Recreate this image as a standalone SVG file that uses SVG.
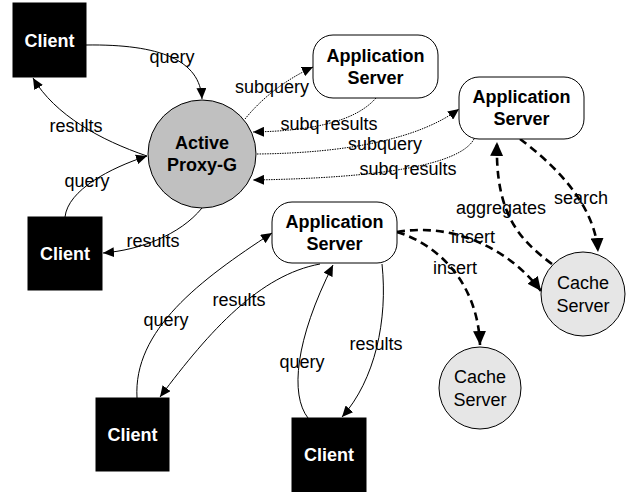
<svg xmlns="http://www.w3.org/2000/svg" width="626" height="492" viewBox="0 0 626 492">
<defs>
<style>
text{font-family:"Liberation Sans",Arial,sans-serif;font-size:18px;text-anchor:middle;fill:#000}
.b{font-weight:bold}
.w{fill:#fff;font-weight:bold}
.client{fill:#000;stroke:#000}
.app{fill:#fff;stroke:#000;stroke-width:1}
.proxy{fill:#c0c0c0;stroke:#000;stroke-width:1}
.cache{fill:#e6e6e6;stroke:#000;stroke-width:1}
.c{fill:none;stroke:#000;stroke-width:1}
.dot{fill:none;stroke:#000;stroke-width:1;stroke-dasharray:1.5,1}
.dash{fill:none;stroke:#000;stroke-width:2.6;stroke-dasharray:8,5}
</style>
<marker id="a" markerUnits="userSpaceOnUse" markerWidth="12" markerHeight="10" refX="11" refY="5" orient="auto">
<path d="M0,0 L11,5 L0,10 z" fill="#000"/>
</marker>
<marker id="A" markerUnits="userSpaceOnUse" markerWidth="15" markerHeight="13" refX="14" refY="6.5" orient="auto">
<path d="M0,0 L14,6.5 L0,13 z" fill="#000"/>
</marker>
</defs>
<g id="connectors">
<path class="c" d="M86,45 C160,44 200,60 202,99" marker-end="url(#a)"/>
<path class="c" d="M147,156 C100,140 55,115 33,78" marker-end="url(#a)"/>
<path class="c" d="M65,217 C68,190 110,168 147,156" marker-end="url(#a)"/>
<path class="c" d="M202,208 C180,235 140,250 103,253" marker-end="url(#a)"/>
<path class="dot" d="M245,119 C262,98 285,80 313,67" marker-end="url(#a)"/>
<path class="dot" d="M376,98 C355,122 310,131 253,132" marker-end="url(#a)"/>
<path class="dot" d="M257,154 C350,153 420,138 459,109" marker-end="url(#a)"/>
<path class="dot" d="M474,139 C460,165 380,178 253,180" marker-end="url(#a)"/>
<path class="dash" d="M520,139 C555,165 595,205 598,252" marker-end="url(#A)"/>
<path class="dash" d="M552,264 C520,240 495,215 497,142" marker-end="url(#A)"/>
<path class="dash" d="M397,232 C455,222 510,250 541,291" marker-end="url(#A)"/>
<path class="dash" d="M397,232 C440,245 478,285 480,345" marker-end="url(#A)"/>
<path class="c" d="M137,398 C133,330 200,280 272,233" marker-end="url(#a)"/>
<path class="c" d="M320,264 C260,275 210,330 160,397" marker-end="url(#a)"/>
<path class="c" d="M308,418 C290,395 295,340 333,265" marker-end="url(#a)"/>
<path class="c" d="M382,264 C388,320 375,380 342,417" marker-end="url(#a)"/>
<text x="172" y="63">query</text>
<text x="76" y="132">results</text>
<text x="87" y="187">query</text>
<text x="153" y="247">results</text>
<text x="272" y="93">subquery</text>
<text x="329" y="130">subq results</text>
<text x="385" y="150">subquery</text>
<text x="408" y="175">subq results</text>
<text x="581" y="204">search</text>
<text x="501" y="214">aggregates</text>
<text x="473" y="243">insert</text>
<text x="455" y="274">insert</text>
<text x="166" y="326">query</text>
<text x="239" y="306">results</text>
<text x="302" y="368">query</text>
<text x="376" y="350">results</text>
</g>
<g id="client1"><rect class="client" x="13" y="3" width="73" height="74"/><text class="w" x="49.5" y="47">Client</text></g>
<g id="client2"><rect class="client" x="28" y="217" width="74" height="73"/><text class="w" x="65" y="260">Client</text></g>
<g id="client3"><rect class="client" x="96" y="398" width="73" height="73"/><text class="w" x="132.5" y="441">Client</text></g>
<g id="client4"><rect class="client" x="292" y="418" width="74" height="74"/><text class="w" x="329" y="461">Client</text></g>
<g id="proxy"><circle class="proxy" cx="202" cy="154" r="54"/><text class="b" x="202" y="149">Active</text><text class="b" x="202" y="171">Proxy-G</text></g>
<g id="app1"><rect class="app" x="313" y="35" width="125" height="63" rx="20"/><text class="b" x="375.5" y="62">Application</text><text class="b" x="375.5" y="84">Server</text></g>
<g id="app2"><rect class="app" x="459" y="77" width="125" height="62" rx="20"/><text class="b" x="521.5" y="103">Application</text><text class="b" x="521.5" y="125">Server</text></g>
<g id="app3"><rect class="app" x="272" y="202" width="125" height="61" rx="20"/><text class="b" x="334.5" y="228">Application</text><text class="b" x="334.5" y="250">Server</text></g>
<g id="cache1"><circle class="cache" cx="583" cy="294" r="42"/><text x="583" y="289">Cache</text><text x="583" y="312">Server</text></g>
<g id="cache2"><circle class="cache" cx="480" cy="388" r="41"/><text x="480" y="383">Cache</text><text x="480" y="406">Server</text></g>
</svg>
